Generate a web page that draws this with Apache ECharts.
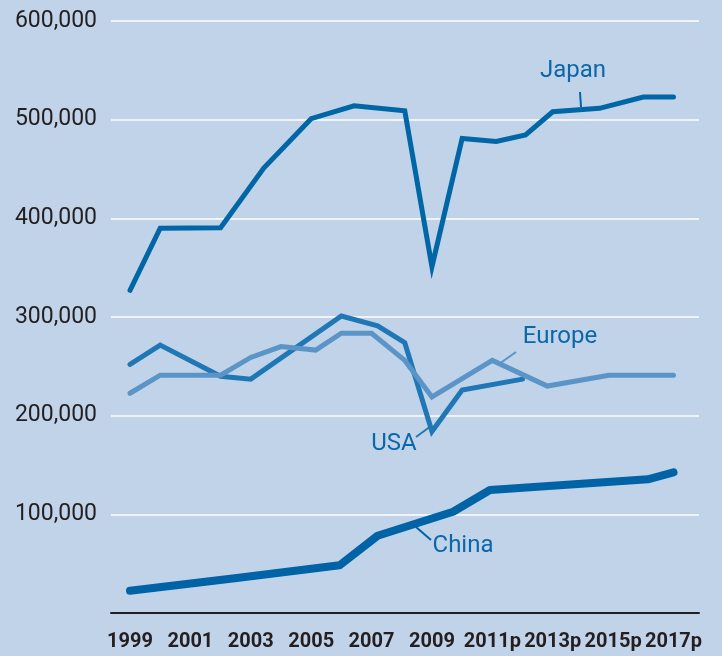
<!DOCTYPE html>
<html>
<head>
<meta charset="utf-8">
<script src="https://cdn.jsdelivr.net/npm/echarts@6/dist/echarts.min.js"></script>
<style>
html,body{margin:0;padding:0;background:#c1d3e8;}
#chart{width:722px;height:656px;}
</style>
</head>
<body>
<div id="chart"></div>
<script>
// Data: [year position, value]
var japanYears  = [1999, 2000, 2002, 2003.43, 2005, 2006.42, 2008.1, 2009, 2010, 2011.13, 2012.1, 2013, 2014.55, 2016, 2017];
var japanValues = [327000, 390000, 390500, 451000, 501000, 514000, 509000, 351000, 481000, 478000, 484500, 508000, 511500, 523000, 523000];

var usaYears  = [1999, 2000, 2002, 2003, 2006, 2007.2, 2008.1, 2009, 2010, 2012];
var usaValues = [252000, 271500, 240000, 237000, 301000, 291000, 274000, 184000, 226000, 237000];

var europeYears  = [1999, 2000, 2002, 2003, 2004, 2005.15, 2006, 2007, 2008.1, 2009, 2011, 2012.82, 2014.86, 2017];
var europeValues = [222700, 241000, 241000, 259000, 270000, 266500, 283500, 283500, 256000, 219000, 256000, 230000, 241000, 241000];

var chinaYears  = [1999, 2002.47, 2005.94, 2007.2, 2009.7, 2010.92, 2016.15, 2017];
var chinaValues = [22600, 35200, 48300, 78300, 102600, 124700, 135500, 142600];

var yTicks = [0, 100000, 200000, 300000, 400000, 500000, 600000];
var xTickYears = [1999, 2001, 2003, 2005, 2007, 2009, 2011, 2013, 2015, 2017];
var projectedFrom = 2011;

function pairs(xs, ys){ return xs.map(function(x,i){ return [x, ys[i]]; }); }

var FONT = "Roboto,'Liberation Sans',sans-serif";
var labelColor = '#0b67a9';

var chart = echarts.init(document.getElementById('chart'));
chart.setOption({
  backgroundColor: '#c1d3e8',
  animation: false,
  grid: [
    {left: 111, right: 23, top: 21, bottom: 43},
    {left: 130, right: 48.5, top: 21, bottom: 43}
  ],
  xAxis: [
    {gridIndex: 0, type: 'value', min: 0, max: 1, axisLabel: {show: false}, axisTick: {show: false},
     splitLine: {show: false}, axisLine: {show: true, lineStyle: {color: '#231f20', width: 2}}},
    {gridIndex: 1, type: 'value', min: xTickYears[0], max: xTickYears[xTickYears.length-1], interval: 2,
     axisLine: {show: false}, axisTick: {show: false}, splitLine: {show: false},
     axisLabel: {margin: 19, color: '#231f20', fontFamily: FONT, fontWeight: 'bold', fontSize: 20,
       showMinLabel: true, showMaxLabel: true, hideOverlap: false,
       formatter: function(v){ return v >= projectedFrom ? v + 'p' : String(v); }}}
  ],
  yAxis: [
    {gridIndex: 0, type: 'value', min: yTicks[0], max: yTicks[yTicks.length-1], interval: 100000,
     axisLine: {show: false}, axisTick: {show: false},
     splitLine: {show: true, lineStyle: {color: '#ffffff', width: 1.5}},
     axisLabel: {margin: 14, color: '#231f20', fontFamily: FONT, fontSize: 23,
       showMinLabel: true, showMaxLabel: true,
       formatter: function(v){ return v === 0 ? '' : v.toLocaleString('en-US'); }}},
    {gridIndex: 1, type: 'value', min: yTicks[0], max: yTicks[yTicks.length-1], show: false}
  ],
  series: [
    {name: 'China', type: 'line', xAxisIndex: 1, yAxisIndex: 1, data: pairs(chinaYears, chinaValues),
     symbol: 'none', lineStyle: {color: '#0063a6', width: 8, cap: 'round', join: 'round'}, z: 3},
    {name: 'USA', type: 'line', xAxisIndex: 1, yAxisIndex: 1, data: pairs(usaYears, usaValues),
     symbol: 'none', lineStyle: {color: '#1f78b5', width: 5, cap: 'round', join: 'miter'}, z: 3},
    {name: 'Europe', type: 'line', xAxisIndex: 1, yAxisIndex: 1, data: pairs(europeYears, europeValues),
     symbol: 'none', lineStyle: {color: '#5b95c7', width: 5, cap: 'round', join: 'miter'}, z: 4},
    {name: 'Japan', type: 'line', xAxisIndex: 1, yAxisIndex: 1, data: pairs(japanYears, japanValues),
     symbol: 'none', lineStyle: {color: '#0066a6', width: 5, cap: 'round', join: 'miter'}, z: 5}
  ],
  graphic: [
    {type: 'text', style: {x: 573, y: 71, text: 'Japan', align: 'center', verticalAlign: 'middle', font: '24px ' + FONT, fill: labelColor}},
    {type: 'line', shape: {x1: 580, y1: 92, x2: 581, y2: 107}, style: {stroke: '#0066a6', lineWidth: 2}},
    {type: 'text', style: {x: 560, y: 337, text: 'Europe', align: 'center', verticalAlign: 'middle', font: '24px ' + FONT, fill: labelColor}},
    {type: 'line', shape: {x1: 516, y1: 352, x2: 499, y2: 364}, style: {stroke: '#5b95c7', lineWidth: 2}},
    {type: 'text', style: {x: 394, y: 444, text: 'USA', align: 'center', verticalAlign: 'middle', font: '24px ' + FONT, fill: labelColor}},
    {type: 'line', shape: {x1: 416, y1: 437, x2: 431, y2: 426}, style: {stroke: '#1f78b5', lineWidth: 2}},
    {type: 'text', style: {x: 463, y: 546, text: 'China', align: 'center', verticalAlign: 'middle', font: '24px ' + FONT, fill: labelColor}},
    {type: 'line', shape: {x1: 416, y1: 527, x2: 431, y2: 540}, style: {stroke: '#0063a6', lineWidth: 2}}
  ]
});
</script>
</body>
</html>
